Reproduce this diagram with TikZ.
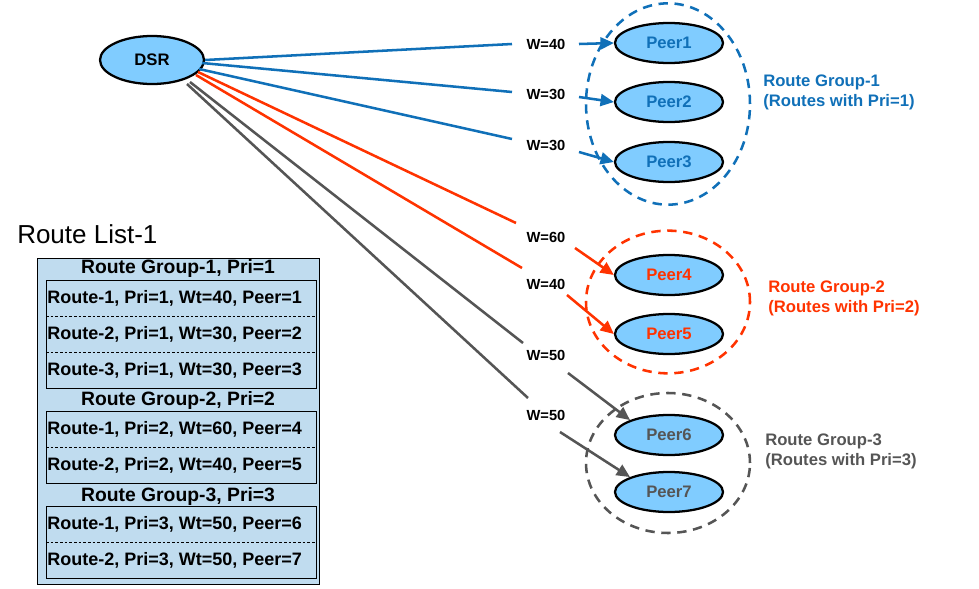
\documentclass[tikz,border=0pt]{standalone}
\usepackage{fontspec}
\setmainfont{Liberation Sans}
\usetikzlibrary{shapes.geometric,arrows.meta}
\definecolor{cb}{HTML}{1070B8}
\definecolor{cr}{HTML}{FF3300}
\definecolor{cg}{HTML}{555555}
\definecolor{fillb}{HTML}{80CCFF}
\definecolor{tab}{HTML}{C0DCEF}
\begin{document}
\begin{tikzpicture}[x=0.75pt,y=-0.75pt,
  peer/.style={ellipse,draw=black,line width=1.7pt,fill=fillb,minimum width=81pt,minimum height=30pt,inner sep=0pt,font=\bfseries\fontsize{12.5}{14}\selectfont},
  wl/.style={font=\bfseries\fontsize{11}{12}\selectfont,inner sep=1pt},
  ln/.style={line width=1.9pt},
  ar/.style={line width=1.9pt,-{Triangle[length=10pt,width=9pt]}},
  grp/.style={ellipse,dashed,line width=1.9pt,dash pattern=on 7pt off 5pt,inner sep=0pt},
  gl/.style={font=\bfseries\fontsize{12.5}{14.5}\selectfont,align=left,anchor=north west,inner sep=0pt},
  row/.style={font=\bfseries\fontsize{13.5}{15}\selectfont,anchor=west,inner sep=0pt},
  hdr/.style={font=\bfseries\fontsize{14.5}{16}\selectfont,inner sep=0pt}]
\useasboundingbox (0,0) rectangle (979,589);
% group circles
\node[grp,draw=cb,minimum width=123pt,minimum height=151pt] (g1) at (668,104) {};
\node[grp,draw=cr,minimum width=123pt,minimum height=107pt] (g2) at (668,302) {};
\node[grp,draw=cg,minimum width=123pt,minimum height=105pt] (g3) at (668,463) {};
\node[gl,text=cb] (t1) at (763,75) {Route Group-1\\(Routes with Pri=1)};
\node[gl,text=cr] (t2) at (768,281) {Route Group-2\\(Routes with Pri=2)};
\node[gl,text=cg] (t3) at (765,434) {Route Group-3\\(Routes with Pri=3)};
% nodes
\node[peer,minimum width=78pt,minimum height=36pt] (dsr) at (152,60) {DSR};
\node[peer,text=cb] (p1) at (669,43) {Peer1};
\node[peer,text=cb] (p2) at (669,102) {Peer2};
\node[peer,text=cb] (p3) at (669,162) {Peer3};
\node[peer,text=cr] (p4) at (669,275) {Peer4};
\node[peer,text=cr] (p5) at (669,334) {Peer5};
\node[peer,text=cg] (p6) at (669,435) {Peer6};
\node[peer,text=cg] (p7) at (669,492) {Peer7};
% weight labels
\node[wl] (w1) at (546,44) {W=40};
\node[wl] (w2) at (546,94) {W=30};
\node[wl] (w3) at (546,145) {W=30};
\node[wl] (w4) at (546,237) {W=60};
\node[wl] (w5) at (546,284) {W=40};
\node[wl] (w6) at (546,355) {W=50};
\node[wl] (w7) at (546,415) {W=50};
\coordinate (a1) at (512,44); \coordinate (b1) at (579,44);
\coordinate (a2) at (512,92); \coordinate (b2) at (579,97);
\coordinate (a3) at (512,139); \coordinate (b3) at (579,152);
\coordinate (a4) at (516,223); \coordinate (b4) at (575,248);
\coordinate (a5) at (522,268); \coordinate (b5) at (567,295);
\coordinate (a6) at (523,343); \coordinate (b6) at (568,373);
\coordinate (a7) at (528,398); \coordinate (b7) at (560,432);
\draw[ln,cb] (dsr.east) -- (a1); \draw[ar,cb] (b1) -- (p1.west);
\draw[ln,cb] (dsr) ++(50,3) -- (a2); \draw[ar,cb] (b2) -- (p2.west);
\draw[ln,cb] (dsr) ++(47,9) -- (a3); \draw[ar,cb] (b3) -- (p3.west);
\draw[ln,cr] (dsr) ++(46,12) -- (a4); \draw[ar,cr] (b4) -- (p4.west);
\draw[ln,cr] (dsr) ++(44,15) -- (a5); \draw[ar,cr] (b5) -- (p5.west);
\draw[ln,cg] (dsr) ++(38,22) -- (a6); \draw[ar,cg] (b6) -- (p6.north west);
\draw[ln,cg] (dsr) ++(35,24) -- (a7); \draw[ar,cg] (b7) -- (p7.north west);
% table
\node[font=\fontsize{19.5}{21}\selectfont,anchor=west,inner sep=0pt] (title) at (17,234) {Route List-1};
\node[draw=black,fill=tab,line width=0.6pt,minimum width=212pt,minimum height=245pt,inner sep=0pt] (tbl) at (178.5,421.5) {};
\node[hdr] (h1) at (178,268) {Route Group-1, Pri=1};
\node[hdr] (h2) at (178,400) {Route Group-2, Pri=2};
\node[hdr] (h3) at (178,496) {Route Group-3, Pri=3};
\draw[line width=0.6pt] (46,280) rectangle (316,388);
\draw[line width=0.6pt] (46,411) rectangle (316,483);
\draw[line width=0.6pt] (46,506) rectangle (316,578);
\foreach \y in {316,352,447,542} \draw[dashed,line width=0.4pt,dash pattern=on 2pt off 1.5pt] (46,\y) -- (316,\y);
\node[row] (r1) at (47,298) {Route-1, Pri=1, Wt=40, Peer=1};
\node[row] (r2) at (47,334) {Route-2, Pri=1, Wt=30, Peer=2};
\node[row] (r3) at (47,370) {Route-3, Pri=1, Wt=30, Peer=3};
\node[row] (r4) at (47,429) {Route-1, Pri=2, Wt=60, Peer=4};
\node[row] (r5) at (47,465) {Route-2, Pri=2, Wt=40, Peer=5};
\node[row] (r6) at (47,524) {Route-1, Pri=3, Wt=50, Peer=6};
\node[row] (r7) at (47,560) {Route-2, Pri=3, Wt=50, Peer=7};
\end{tikzpicture}
\end{document}
